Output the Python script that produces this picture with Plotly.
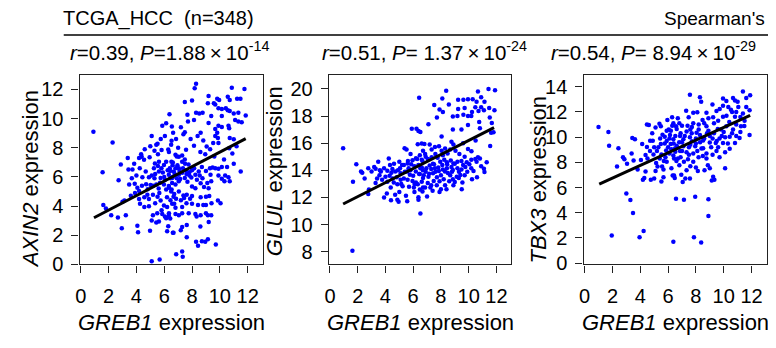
import plotly.graph_objects as go

# ---------------- data ----------------
greb1_ticks = [0, 2, 4, 6, 8, 10, 12]

axin2_points = [
    (0.91, 9.1), (2.29, 8.36), (1.57, 6.32), (2.72, 5.77), (2.88, 6.85), (3.38, 7.3), (3.72, 6.5), (3.43, 6.5),
    (3.67, 5.9), (3.84, 6.9), (3.88, 5.53), (4.19, 7.3), (4.24, 6.59), (4.34, 7.56), (4.38, 7.38), (4.07, 5.26),
    (3.48, 5.48), (3.14, 4.38), (3.24, 3.37), (2.67, 3.21), (2.95, 2.48), (2.19, 3.37), (1.62, 4.08), (1.81, 3.83),
    (4.07, 2.65), (4.12, 2.21), (4.98, 2.3), (5.1, 0.22), (5.67, 0.33), (4.19, 4.49), (4.26, 4.16), (4.57, 3.93),
    (4.19, 5.04), (4.57, 4.6), (4.79, 4.78), (4.9, 4.49), (4.81, 5.15), (5.02, 5.44), (5.1, 6.1), (5.26, 6.59),
    (4.9, 5.97), (4.67, 6.37), (4.43, 5.97), (4.55, 7.17), (4.95, 7.35), (5.1, 8.81), (5.43, 8.21), (5.55, 7.56),
    (5.52, 8.28), (5.86, 9.5), (6.14, 9.68), (6.38, 10.3), (6.05, 8.81), (6.29, 7.88), (5.81, 7.84), (5.33, 6.92),
    (5.62, 6.37), (5.74, 5.93), (5.43, 5.48), (5.19, 4.78), (5.52, 4.64), (5.74, 4.38), (5.98, 4.04), (6.21, 3.93),
    (5.19, 3.37), (5.1, 3.01), (5.5, 3.5), (5.81, 3.72), (5.86, 3.46), (6.05, 3.28), (6.14, 3.17), (6.33, 3.33),
    (5.62, 2.95), (5.43, 2.88), (6.29, 2.61), (6.21, 2.28), (6.67, 2.17), (4.9, 3.98), (6.14, 5.13), (6.33, 5.37),
    (6.57, 5.59), (6.33, 6.15), (5.98, 6.81), (6.14, 7.03), (6.52, 7.03), (6.69, 6.37), (6.67, 4.64), (5.98, 5.48),
    (6.57, 4.16), (5.62, 7.03), (5.3, 5.9), (5.6, 5.2), (6.0, 6.0), (6.4, 6.6), (6.6, 6.0), (5.8, 6.6), (5.2, 5.4),
    (6.5, 5.0), (6.9, 5.9), (7.1, 6.4), (7.5, 6.9), (6.9, 7.4), (3.6, 4.7), (3.0, 4.3),
    (8.29, 12.38), (8.19, 12.07), (10.86, 12.11), (11.77, 12.02), (7.48, 11.14), (8.0, 11.23), (9.19, 11.54),
    (9.81, 11.36), (9.95, 11.27), (10.57, 11.5), (10.71, 11.27), (11.24, 11.36), (11.48, 11.36), (9.14, 11.05),
    (9.57, 11.05), (9.67, 10.96), (9.9, 10.7), (10.14, 10.65), (10.43, 10.7), (10.57, 10.56), (10.71, 10.52),
    (11.0, 10.34), (11.33, 10.39), (11.86, 10.21), (8.29, 10.39), (8.52, 10.34), (8.76, 10.39), (7.67, 10.26),
    (8.14, 9.9), (7.71, 9.79), (9.38, 10.17), (10.14, 10.17), (11.1, 9.9), (11.33, 9.79), (11.57, 9.75),
    (9.19, 9.7), (9.9, 9.5), (10.14, 9.42), (10.62, 9.5), (9.67, 9.28), (9.81, 9.02), (10.67, 9.33), (6.55, 9.46),
    (6.64, 9.02), (7.38, 8.93), (7.48, 9.06), (8.62, 9.02), (9.67, 8.8), (9.86, 8.67), (10.71, 8.67), (11.0, 8.58),
    (8.81, 8.5), (9.52, 8.32), (9.9, 8.32), (10.67, 7.96), (6.53, 8.47), (6.34, 7.7), (7.0, 8.0), (7.05, 7.38),
    (7.57, 7.86), (8.14, 8.13), (9.05, 8.09), (8.95, 7.56), (6.81, 7.52), (7.29, 7.47), (7.48, 7.2), (7.29, 7.03),
    (6.62, 6.99), (6.81, 6.59), (6.43, 6.41), (7.05, 6.59), (6.57, 5.93), (7.05, 6.15), (7.29, 6.28), (7.57, 6.46),
    (7.81, 6.32), (8.0, 6.46), (7.81, 6.1), (8.24, 6.15), (8.48, 6.37), (8.71, 6.68), (9.0, 6.41), (9.29, 6.59),
    (9.48, 6.64), (9.67, 6.59), (9.9, 6.55), (10.14, 6.68), (10.52, 6.68), (11.0, 6.9), (11.5, 6.37), (9.9, 6.1),
    (10.14, 5.88), (10.38, 6.1), (10.62, 5.97), (10.33, 5.7), (10.71, 5.7), (9.33, 6.15), (9.38, 5.7), (9.1, 5.59),
    (6.81, 5.48), (7.05, 5.7), (7.48, 5.93), (7.67, 5.66), (8.0, 5.35), (8.24, 5.22), (8.62, 5.57), (8.86, 5.31),
    (9.19, 5.22), (6.34, 5.26), (6.53, 5.13), (6.72, 4.82), (7.05, 5.0), (7.38, 4.73), (7.43, 4.55), (7.62, 4.78),
    (7.86, 4.51), (8.0, 4.69), (8.62, 4.6), (9.0, 4.64), (9.24, 4.69), (9.86, 4.38), (10.05, 4.2), (6.72, 4.16),
    (6.81, 3.89), (7.29, 3.93), (8.0, 4.16), (8.43, 4.07), (8.81, 4.07), (9.0, 4.07), (6.81, 3.46), (7.05, 3.37),
    (7.29, 3.5), (7.76, 3.5), (8.24, 3.46), (8.33, 3.28), (8.62, 3.37), (9.0, 3.5), (9.14, 3.37), (9.38, 3.37),
    (6.34, 3.5), (6.43, 3.15), (7.29, 2.57), (7.19, 2.35), (7.62, 2.7), (6.62, 2.17), (7.62, 1.86), (8.29, 1.55),
    (8.43, 1.28), (8.71, 1.59), (8.95, 1.55), (9.14, 1.73), (9.71, 1.37), (6.86, 0.7), (7.29, 0.88), (7.33, 0.53),
    (5.35, 6.2), (5.55, 6.75), (5.7, 5.6), (5.9, 6.3), (6.05, 5.8), (6.25, 6.45), (6.45, 5.9), (6.6, 6.8),
    (6.75, 6.2), (6.95, 6.8), (7.15, 5.85), (7.35, 6.6), (7.6, 6.2), (7.75, 6.85), (7.95, 5.95), (8.15, 6.6),
    (8.35, 5.8), (8.55, 6.1), (8.75, 5.9), (6.2, 4.6), (6.45, 4.4), (5.35, 4.2), (5.65, 4.9), (6.85, 4.5),
    (7.2, 4.4), (7.6, 4.2), (4.7, 5.5), (4.4, 5.4), (4.0, 6.1), (3.9, 4.9), (4.6, 7.9), (5.0, 8.1), (5.3, 7.8),
    (5.75, 8.6), (6.5, 8.2), (6.85, 8.6), (7.2, 9.4), (7.9, 8.6), (8.4, 8.8), (8.6, 7.7), (9.3, 7.9), (9.6, 7.4),
    (10.3, 7.2), (10.9, 7.6), (11.2, 8.1), (9.4, 4.2), (8.6, 2.6), (9.2, 2.9),
]

glul_points = [
    (0.95, 15.63), (1.62, 8.08), (1.66, 13.16), (1.9, 14.44), (2.24, 13.92), (2.33, 13.82), (2.76, 14.16),
    (2.76, 12.26), (2.81, 12.59), (3.0, 13.92), (3.19, 14.25), (3.29, 14.11), (3.29, 13.06), (3.48, 14.63),
    (3.57, 13.63), (3.67, 13.92), (3.76, 13.3), (3.9, 14.16), (4.0, 13.53), (4.14, 13.16), (4.1, 12.3),
    (4.24, 14.87), (4.14, 13.97), (4.33, 14.4), (4.43, 13.82), (4.38, 12.73), (4.52, 13.4), (4.62, 14.49),
    (4.71, 13.92), (4.81, 13.49), (4.86, 12.97), (4.86, 11.83), (4.95, 11.69), (5.0, 14.63), (5.05, 14.16),
    (5.1, 13.78), (5.14, 13.0), (5.24, 12.83), (5.33, 14.4), (5.33, 13.4), (5.38, 15.63), (5.52, 15.53),
    (5.48, 12.12), (5.57, 11.73), (5.57, 13.92), (5.62, 14.68), (5.67, 14.16), (5.76, 13.68), (5.81, 15.2),
    (5.86, 14.44), (5.9, 17.06), (6.24, 17.06), (5.95, 13.21), (6.05, 12.73), (6.09, 12.4), (6.19, 13.92),
    (6.29, 14.83), (6.33, 15.92), (6.43, 19.34), (6.52, 16.82), (6.52, 10.83), (6.38, 11.83), (6.33, 12.97),
    (6.43, 13.73), (6.52, 14.16), (6.62, 14.78), (6.71, 15.44), (6.71, 13.44), (6.71, 12.73),
    (4.3, 13.6), (4.6, 13.1), (4.9, 14.0), (5.2, 14.4), (5.4, 13.9), (5.6, 13.3), (5.8, 14.0), (6.0, 13.6),
    (6.1, 14.3), (6.2, 13.1), (5.7, 12.8), (5.0, 12.4), (4.7, 12.2), (3.9, 12.0), (4.4, 11.8),
    (8.38, 19.86), (11.43, 20.0), (11.9, 19.9), (10.67, 19.8), (9.95, 19.24), (10.29, 19.24), (10.9, 19.38),
    (11.14, 19.05), (10.57, 19.05), (9.24, 19.2), (9.62, 19.2), (7.52, 18.82), (8.1, 19.3), (8.57, 18.85),
    (7.9, 18.48), (8.14, 18.29), (9.24, 18.52), (9.71, 18.6), (10.48, 18.65), (10.9, 18.65), (10.24, 18.29),
    (10.71, 18.38), (11.1, 18.43), (11.48, 18.6), (11.86, 18.43), (8.86, 17.96), (9.19, 18.0), (9.62, 18.1),
    (9.95, 18.0), (10.19, 18.0), (7.71, 17.9), (7.1, 17.39), (11.52, 17.9), (9.95, 17.34), (10.76, 17.57),
    (11.67, 17.48), (8.86, 17.01), (9.48, 17.01), (10.81, 17.1), (11.62, 16.77), (8.05, 16.49), (8.76, 16.11),
    (6.38, 16.9), (6.62, 15.97), (6.81, 15.94), (7.19, 15.9), (7.33, 15.54), (7.57, 15.72), (7.86, 15.77),
    (8.05, 15.44), (8.14, 15.11), (8.48, 15.25), (8.67, 15.54), (9.05, 15.44), (9.33, 15.2), (9.95, 15.58),
    (6.48, 15.11), (6.86, 15.2), (6.67, 14.68), (7.05, 14.83), (7.33, 14.97), (7.43, 14.49), (7.76, 14.92),
    (7.95, 14.63), (8.24, 14.78), (8.43, 14.59), (8.71, 14.73), (9.0, 14.49), (9.19, 14.63), (9.48, 14.68),
    (9.71, 15.0), (9.86, 14.59), (10.19, 14.78), (10.48, 14.83), (10.67, 14.97), (10.81, 14.87), (10.57, 14.63),
    (6.38, 14.4), (6.62, 14.21), (6.95, 14.16), (7.19, 14.35), (7.57, 14.16), (7.81, 14.21), (8.14, 14.06),
    (8.43, 14.16), (8.76, 14.25), (8.86, 14.02), (9.19, 14.16), (9.48, 14.06), (9.76, 14.25), (10.19, 14.16),
    (6.48, 13.73), (6.76, 13.63), (7.1, 13.53), (7.43, 13.78), (7.71, 13.49), (8.0, 13.63), (8.29, 13.92),
    (8.67, 13.63), (8.86, 13.35), (9.14, 13.53), (9.29, 13.44), (9.71, 13.63), (10.24, 13.35), (11.1, 14.11),
    (11.14, 13.87), (6.62, 13.16), (7.05, 13.06), (7.48, 13.21), (7.24, 12.73), (6.86, 12.73), (6.48, 12.59),
    (6.38, 12.02), (7.0, 12.07), (6.67, 12.45), (11.55, 15.79), (11.79, 16.8),
    (7.6, 13.9), (8.1, 14.4), (8.5, 13.8), (8.9, 14.5), (9.3, 13.9), (7.3, 14.1), (7.9, 13.2), (8.3, 12.9),
    (8.6, 13.2), (9.6, 14.4), (7.7, 12.9), (8.0, 12.6), (7.4, 12.5),
    (6.9, 13.9), (7.15, 13.75), (7.5, 14.45), (7.85, 13.95), (8.2, 13.35), (8.45, 14.45), (8.8, 13.9),
    (9.0, 13.15), (9.4, 13.65), (9.55, 13.1), (9.9, 13.9), (10.05, 14.45), (10.35, 13.95), (10.6, 13.5),
    (10.9, 14.3), (11.3, 14.6), (7.3, 12.9), (7.9, 12.4), (8.4, 12.6), (8.9, 12.9), (9.5, 12.6), (6.9, 15.0),
    (7.6, 15.2), (8.3, 15.6), (8.9, 15.9), (9.6, 16.0), (10.2, 15.4), (10.5, 16.2), (6.2, 14.9), (5.95, 14.75),
    (5.6, 14.5), (5.1, 13.3), (4.5, 14.1), (3.6, 14.0), (3.4, 13.4), (2.5, 13.4), (6.1, 13.0), (6.7, 14.0),
]

tbx3_points = [
    (1.0, 10.81), (1.71, 10.4), (1.76, 9.32), (2.43, 9.12), (2.33, 7.68), (2.76, 8.4), (2.86, 8.24), (3.05, 7.89),
    (3.38, 8.71), (3.43, 9.94), (3.62, 9.84), (3.52, 8.14), (3.81, 7.43), (4.05, 8.19), (4.14, 9.45), (4.19, 6.61),
    (4.29, 6.76), (4.38, 7.27), (4.38, 8.58), (4.48, 11.01), (4.62, 10.96), (4.48, 9.22), (4.52, 8.3), (4.71, 9.71),
    (4.9, 9.71), (4.86, 10.3), (4.95, 8.63), (4.76, 6.61), (5.0, 6.71), (5.1, 7.32), (5.1, 10.76), (5.14, 7.94),
    (5.24, 7.68), (5.38, 11.06), (5.48, 10.86), (5.43, 9.89), (5.48, 9.45), (5.52, 8.63), (5.57, 7.68), (5.67, 7.43),
    (5.52, 6.48), (5.67, 6.81), (5.76, 10.04), (5.76, 9.5), (5.86, 8.94), (5.81, 8.4), (5.9, 8.04), (5.95, 11.37),
    (6.05, 10.6), (6.14, 10.17), (6.19, 9.45), (6.24, 9.04), (6.24, 7.53), (6.29, 11.58), (6.38, 11.11),
    (6.38, 9.84), (6.43, 8.3), (6.33, 6.96), (6.48, 6.76), (6.52, 8.84), (6.57, 5.12), (6.52, 10.09), (6.62, 10.65),
    (6.62, 9.19), (3.0, 5.53), (3.29, 5.02), (3.48, 3.99), (1.95, 2.2), (3.95, 2.05), (4.24, 2.56), (6.38, 1.69),
    (5.3, 9.2), (5.6, 10.2), (5.9, 9.7), (6.1, 8.7), (6.0, 9.2), (5.2, 8.9), (6.4, 9.5), (6.6, 8.1), (5.7, 8.1),
    (5.4, 8.3), (6.2, 10.5), (4.7, 8.9), (5.0, 9.2), (6.8, 9.6), (6.9, 10.3), (7.0, 8.9),
    (7.57, 13.36), (11.38, 13.62), (11.9, 13.32), (11.62, 13.11), (8.29, 13.17), (8.38, 12.8), (9.95, 13.06),
    (10.67, 13.11), (10.81, 12.9), (10.19, 12.86), (9.19, 12.6), (7.81, 11.93), (7.48, 11.57), (8.1, 11.98),
    (8.76, 11.93), (9.48, 12.08), (9.71, 12.23), (9.95, 12.49), (10.33, 12.39), (10.52, 12.18), (11.05, 12.39),
    (11.38, 11.88), (11.86, 12.13), (11.62, 12.39), (10.81, 11.62), (9.95, 11.62), (9.24, 11.57), (8.48, 11.37),
    (7.81, 11.11), (6.81, 11.11), (6.57, 10.86), (7.71, 10.81), (8.76, 10.86), (9.57, 10.65), (10.19, 10.86),
    (10.67, 10.6), (11.24, 10.86), (11.86, 10.17), (7.33, 10.45), (8.05, 10.35), (8.29, 10.17), (9.0, 10.09),
    (9.86, 10.09), (10.43, 10.04), (11.14, 9.94), (6.86, 10.09), (7.1, 9.84), (7.57, 9.99), (7.71, 9.68),
    (8.52, 9.73), (9.0, 9.58), (9.43, 9.53), (9.95, 9.53), (10.81, 9.53), (6.62, 9.32), (7.1, 9.27), (7.95, 9.27),
    (8.52, 9.12), (9.48, 8.91), (10.1, 8.81), (10.43, 9.07), (6.86, 8.91), (7.33, 8.81), (7.81, 8.71), (8.76, 8.71),
    (6.38, 8.55), (6.71, 8.3), (7.43, 8.24), (8.19, 8.4), (8.76, 8.3), (7.14, 8.04), (7.81, 8.04), (6.81, 7.78),
    (8.86, 7.78), (9.0, 7.53), (7.33, 7.37), (8.14, 7.32), (8.62, 7.37), (10.1, 7.53), (6.43, 6.96), (6.95, 7.01),
    (7.24, 6.71), (7.57, 6.71), (9.24, 6.86), (9.14, 6.56), (9.33, 6.61), (7.05, 6.45), (7.14, 5.04), (7.95, 5.27),
    (8.9, 5.07), (8.9, 3.74), (7.86, 2.05), (8.38, 1.64), (11.48, 10.88),
    (8.3, 9.6), (8.8, 10.3), (9.2, 9.9), (9.6, 9.2), (10.0, 10.4), (10.4, 11.2), (10.9, 11.0), (11.2, 11.6),
    (8.0, 9.9), (7.6, 9.4), (7.4, 10.9), (8.6, 11.1), (9.3, 11.1), (10.6, 12.0), (11.0, 12.8), (9.7, 9.9),
    (7.0, 9.6), (7.2, 10.1), (7.5, 9.2), (7.7, 10.3), (8.0, 9.5), (8.2, 10.6), (8.4, 9.1), (8.6, 9.9),
    (8.9, 10.5), (9.1, 9.2), (9.3, 10.3), (9.5, 9.7), (9.8, 10.6), (10.1, 10.0), (10.3, 9.5), (10.6, 10.3),
    (10.9, 10.1), (11.2, 10.4), (11.5, 11.3), (10.9, 12.0), (10.2, 11.7), (9.6, 11.3), (8.9, 11.5), (8.2, 11.0),
    (7.6, 10.6), (7.0, 10.9), (6.7, 11.5), (7.3, 12.1), (6.3, 10.9), (5.9, 10.5), (6.1, 9.9), (6.5, 9.1),
    (6.9, 8.4), (7.5, 8.6), (8.1, 8.9), (8.5, 8.5), (9.2, 8.6), (9.7, 8.4), (8.0, 7.6), (7.6, 7.7),
]

# fitted regression lines (end points)
axin2_fit_x, axin2_fit_y = [0.95, 11.86], [3.2, 8.62]
glul_fit_x, glul_fit_y = [0.95, 11.83], [11.52, 17.15]
tbx3_fit_x, tbx3_fit_y = [1.05, 11.9], [6.27, 11.72]

gene_names = ["AXIN2", "GLUL", "TBX3"]
stat_labels = [
    "<i>r</i>=0.39, <i>P</i>=1.88\u2009\u00d7\u200910<sup>-14</sup>",
    "<i>r</i>=0.51, <i>P</i>= 1.37\u2009\u00d7\u200910<sup>-24</sup>",
    "<i>r</i>=0.54, <i>P</i>= 8.94\u2009\u00d7\u200910<sup>-29</sup>",
]
y_ticks = [[0, 2, 4, 6, 8, 10, 12], [8, 10, 12, 14, 16, 18, 20], [0, 2, 4, 6, 8, 10, 12, 14]]

# ---------------- layout geometry ----------------
# the page body has an 8px margin, so the figure is 8px smaller and positions are shifted by 8px
OFF = 8
W, H = 776 - OFF, 348 - OFF


def px(p):
    return (p - OFF) / W


def py(p):
    return 1 - (p - OFF) / H


FONT = "Liberation Sans, Arial, sans-serif"
x_dom_px = [(76, 260), (326.5, 510), (582.5, 766.5)]
y_dom_px = (77, 273)  # top, bottom
y_ranges = [[0, 13.0], [7.07, 21.04], [-0.1, 14.95]]
x_range = [-0.08, 13.08]
stat_x_px = [64, 318, 548]
ytitle_x_px = [26, 272, 537]
ytitle_y_px = [185, 177, 185]

points_all = [axin2_points, glul_points, tbx3_points]
fits = [(axin2_fit_x, axin2_fit_y), (glul_fit_x, glul_fit_y), (tbx3_fit_x, tbx3_fit_y)]

fig = go.Figure()
layout_axes = {}
annotations = []
for i in range(3):
    sfx = "" if i == 0 else str(i + 1)
    xs = [p[0] for p in points_all[i]]
    ys = [p[1] for p in points_all[i]]
    fig.add_trace(go.Scatter(x=xs, y=ys, mode="markers", xaxis="x" + sfx, yaxis="y" + sfx,
                             marker=dict(color="#0000FF", size=4.5, line=dict(width=0)),
                             showlegend=False, hoverinfo="skip"))
    fig.add_trace(go.Scatter(x=fits[i][0], y=fits[i][1], mode="lines", xaxis="x" + sfx, yaxis="y" + sfx,
                             line=dict(color="black", width=3), showlegend=False, hoverinfo="skip"))
    common = dict(showline=True, mirror=True, linecolor="#222", linewidth=1.3, ticks="outside",
                  ticklen=7, tickwidth=1.3, tickcolor="#222", showgrid=False, zeroline=False,
                  tickfont=dict(family=FONT, size=20, color="black"))
    x0, x1 = x_dom_px[i]
    layout_axes["xaxis" + sfx] = dict(domain=[px(x0), px(x1)], anchor="y" + sfx, range=x_range,
                                      tickvals=greb1_ticks, ticklabelstandoff=6, **common)
    layout_axes["yaxis" + sfx] = dict(domain=[py(y_dom_px[1]), py(y_dom_px[0])], anchor="x" + sfx,
                                      range=y_ranges[i], tickvals=y_ticks[i], ticklabelstandoff=4, **common)
    annotations.append(dict(text=stat_labels[i], x=px(stat_x_px[i]), y=py(52), xref="paper", yref="paper",
                            xanchor="left", yanchor="middle", showarrow=False,
                            font=dict(family=FONT, size=20.5, color="black")))
    annotations.append(dict(text="<i>GREB1</i> expression", x=px((x0 + x1) / 2), y=py(333),
                            xref="paper", yref="paper", xanchor="center", yanchor="middle", showarrow=False,
                            font=dict(family=FONT, size=22, color="black")))
    annotations.append(dict(text="<i>%s</i> expression" % gene_names[i], x=px(ytitle_x_px[i]),
                            y=py(ytitle_y_px[i]), xref="paper", yref="paper", xanchor="center",
                            yanchor="middle", showarrow=False, textangle=-90,
                            font=dict(family=FONT, size=22, color="black")))

annotations.append(dict(text="TCGA_HCC\u00a0 (n=348)", x=px(57), y=py(19), xref="paper", yref="paper",
                        xanchor="left", yanchor="middle", showarrow=False,
                        font=dict(family=FONT, size=20, color="black")))
annotations.append(dict(text="Spearman's", x=px(767), y=py(19), xref="paper", yref="paper",
                        xanchor="right", yanchor="middle", showarrow=False,
                        font=dict(family=FONT, size=19, color="black")))

fig.update_layout(width=W, height=H, margin=dict(l=0, r=0, t=0, b=0),
                  paper_bgcolor="white", plot_bgcolor="white",
                  annotations=annotations,
                  shapes=[dict(type="line", xref="paper", yref="paper", x0=px(60), x1=px(768),
                               y0=py(36), y1=py(36), line=dict(color="black", width=1.5))],
                  **layout_axes)

fig.write_html("out.html")
